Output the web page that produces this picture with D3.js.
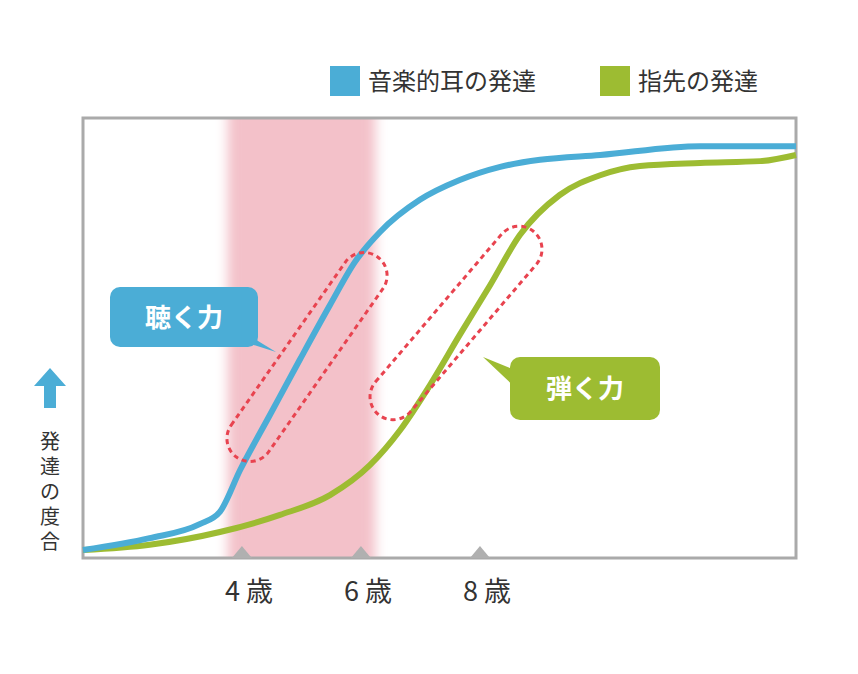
<!DOCTYPE html><html><head><meta charset="utf-8"><script src="https://cdn.jsdelivr.net/npm/d3@7"></script>
<style>body{margin:0;background:#fff}text{font-family:"Noto Sans CJK JP",sans-serif}</style></head><body><svg id="c" width="858" height="674"></svg>
<script>
const blueX=[1.33,2.45,3.29,3.63,3.97,4.47,4.97,5.48,5.90,6.32,6.99,7.66,8.34,9.01,10.02,11.70,13.31];
const blueY=[1.8,4.5,7.7,10.5,20,32.5,45,57.5,67.3,74.1,81.4,85.9,88.9,90.5,91.6,93.6,93.6];
const greenX=[1.33,2.45,3.63,4.64,5.48,6.15,6.66,7.16,7.66,8.17,8.67,9.34,10.02,10.69,11.70,12.71,13.31];
const greenY=[1.8,3,5.9,9.8,14.3,21.1,29.1,39.3,50.7,62,73.4,82.5,87,89.1,89.8,90.2,91.6];
const ticks=[4,6,8];
const legend=["音楽的耳の発達","指先の発達"];
const blue="#4badd6",green="#9dbc32",red="#e8434f";
const svg=d3.select("#c");
const x=d3.scaleLinear().domain([1.33,13.31]).range([83,796]);
const y=d3.scaleLinear().domain([0,100]).range([558,118]);
const defs=svg.append("defs");
const f=defs.append("filter").attr("id","b").attr("x","-0.3").attr("width","1.6");
f.append("feGaussianBlur").attr("stdDeviation","6 0");
const cp=defs.append("clipPath").attr("id","cp");cp.append("rect").attr("x",83).attr("y",118).attr("width",713).attr("height",440);
svg.append("g").attr("clip-path","url(#cp)").append("rect").attr("x",x(3.76)).attr("y",100).attr("width",x(6.24)-x(3.76)).attr("height",480).attr("fill","#f3c1c9").attr("filter","url(#b)");
svg.append("rect").attr("x",83).attr("y",118).attr("width",713).attr("height",440).attr("fill","none").attr("stroke","#aaa").attr("stroke-width",3);
ticks.forEach(t=>{const px=x(t);
svg.append("path").attr("d",`M${px-10},558L${px},546L${px+10},558Z`).attr("fill","#b0b0b0");
svg.append("text").attr("x",px+7).attr("y",601).attr("text-anchor","middle").attr("font-size",27).attr("fill","#333").text(t+" 歳");});
const line=d3.line().x(d=>x(d[0])).y(d=>y(d[1])).curve(d3.curveMonotoneX);
svg.append("path").attr("d",line(greenX.map((v,i)=>[v,greenY[i]]))).attr("fill","none").attr("stroke",green).attr("stroke-width",6);
svg.append("path").attr("d",line(blueX.map((v,i)=>[v,blueY[i]]))).attr("fill","none").attr("stroke",blue).attr("stroke-width",6);
function ell(cx,cy,len,w,ang){svg.append("rect").attr("x",-len/2).attr("y",-w/2).attr("width",len).attr("height",w).attr("rx",w/2)
.attr("transform",`translate(${cx},${cy}) rotate(${ang})`).attr("fill","none").attr("stroke",red).attr("stroke-width",3).attr("stroke-dasharray","5,4");}
ell(307,357,245,46,-55);ell(456,323,240,46,-49.5);
svg.append("path").attr("d","M240,330L276,352L232,338Z").attr("fill",blue);
svg.append("rect").attr("x",110).attr("y",287).attr("width",148).attr("height",60).attr("rx",10).attr("fill",blue);
svg.append("text").attr("x",184).attr("y",327).attr("text-anchor","middle").attr("font-size",26).attr("font-weight","bold").attr("fill","#fff").text("聴く力");
svg.append("path").attr("d","M520,372L483,357L520,392Z").attr("fill",green);
svg.append("rect").attr("x",510).attr("y",357).attr("width",150).attr("height",63).attr("rx",10).attr("fill",green);
svg.append("text").attr("x",585).attr("y",398).attr("text-anchor","middle").attr("font-size",26).attr("font-weight","bold").attr("fill","#fff").text("弾く力");
[[330,blue,legend[0]],[600,green,legend[1]]].forEach(([lx,c,t])=>{
svg.append("rect").attr("x",lx).attr("y",66).attr("width",30).attr("height",30).attr("fill",c);
svg.append("text").attr("x",lx+38).attr("y",90).attr("font-size",24).attr("fill","#333").text(t);});
svg.append("path").attr("d","M50,368L66,386L56,386L56,408L44,408L44,386L34,386Z").attr("fill",blue);
"発達の度合".split("").forEach((ch,i)=>svg.append("text").attr("x",50).attr("y",449+i*25).attr("text-anchor","middle").attr("font-size",20).attr("fill","#333").text(ch));
</script></body></html>
